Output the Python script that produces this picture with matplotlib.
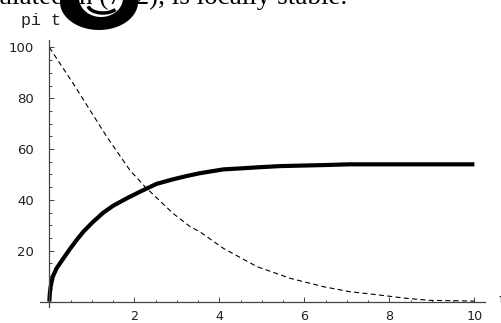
import matplotlib
matplotlib.use('Agg')
import numpy as np
import matplotlib.pyplot as plt
from matplotlib.patches import PathPatch, Arc
from matplotlib.path import Path
from matplotlib.ticker import MultipleLocator

# Data
t_solid = [0, 0.01, 0.03, 0.08, 0.17, 0.33, 0.48, 0.64, 0.8, 1.03, 1.27, 1.5,
           1.82, 2.13, 2.52, 2.91, 3.23, 3.54, 4.09, 4.5, 4.88, 5.42, 6.44,
           7.07, 8, 9, 10]
pi_solid = [0, 3, 5.9, 9.8, 13.1, 17, 20.6, 24.2, 27.5, 31.4, 35, 37.7,
            40.6, 43.2, 46.3, 48.1, 49.4, 50.5, 52, 52.4, 52.8, 53.3, 53.7,
            54, 54, 54, 54]

t_dash = [0, 0.56, 1.35, 1.89, 2.25, 2.91, 3.31, 3.54, 4.09, 4.88, 5.66, 6.44,
          7.07, 7.61, 8.4, 8.95, 9.7, 10]
pi_dash = [100, 85.8, 64.9, 51.8, 45.2, 34.7, 29.5, 27.5, 21, 13.8, 9.2, 5.9,
           3.9, 2.9, 1.3, 0.5, 0.3, 0.2]

x_major = [2, 4, 6, 8, 10]
y_major = [20, 40, 60, 80, 100]

fig = plt.figure(figsize=(5.01, 3.23), dpi=100)
ax = fig.add_axes([40/501, (323-306.7)/323, 445/501, 266.7/323])
ax.set_xlim(-0.22, 10.25)
ax.set_ylim(-2.0, 102.9)
ax.patch.set_visible(False)

ax.plot(t_dash, pi_dash, color='black', lw=0.8, dashes=(4.5, 3))
ax.plot(t_solid, pi_solid, color='black', lw=3.0, solid_capstyle='butt',
        solid_joinstyle='round')

for s in ['top', 'right']:
    ax.spines[s].set_visible(False)
ax.spines['left'].set_position(('data', 0))
ax.spines['bottom'].set_position(('data', 0))
for s in ['left', 'bottom']:
    ax.spines[s].set_color('#444444')
    ax.spines[s].set_linewidth(0.9)

ax.set_xticks(x_major)
ax.set_yticks(y_major)
ax.xaxis.set_minor_locator(MultipleLocator(0.5))
ax.yaxis.set_minor_locator(MultipleLocator(5))
ax.tick_params(which='both', direction='in', color='#444444', width=0.7)
ax.tick_params(which='major', length=3.6)
ax.tick_params(which='minor', length=1.8)
ax.tick_params(axis='y', which='major', pad=11, labelsize=9.5, labelcolor='#222222')
ax.tick_params(axis='x', which='major', pad=6, labelsize=9.2, labelcolor='#222222')
for lbl in ax.get_xticklabels() + ax.get_yticklabels():
    lbl.set_family('DejaVu Sans')

# Overlay in pixel coordinates for annotations
ov = fig.add_axes([0, 0, 1, 1], zorder=5)
ov.set_xlim(0, 501)
ov.set_ylim(323, 0)
ov.axis('off')
ov.patch.set_visible(False)

ov.text(347, 3.5, 'nulated in (7, 2), is locally stable.', ha='right', va='baseline',
        fontsize=19.5, family='Liberation Serif', color='black', zorder=1)
ov.text(21, 25, 'pi t', ha='left', va='baseline', fontsize=12,
        family='Liberation Mono', color='#222222')
ov.text(498, 305, 't', ha='left', va='baseline', fontsize=12,
        family='Liberation Mono', color='#222222')

# Black crescent-shaped blob at the top (scan artefact in the reference)
th = np.linspace(0, 2*np.pi, 80)
outer = np.column_stack([99 + 39*np.cos(th), 2 + 28*np.sin(th)])
inner = np.column_stack([101 + 22*np.cos(th), -2 + 19*np.sin(th)])[::-1]
verts = np.vstack([outer, inner])
codes = ([Path.MOVETO] + [Path.LINETO]*(len(outer)-2) + [Path.CLOSEPOLY]) * 2
ov.add_patch(PathPatch(Path(verts, codes), facecolor='black', edgecolor='none', zorder=3))
ov.add_patch(Arc((103, 5), 30, 16, theta1=20, theta2=175, color='black', lw=2.5, zorder=3))

fig.savefig('out.png', dpi=100)
